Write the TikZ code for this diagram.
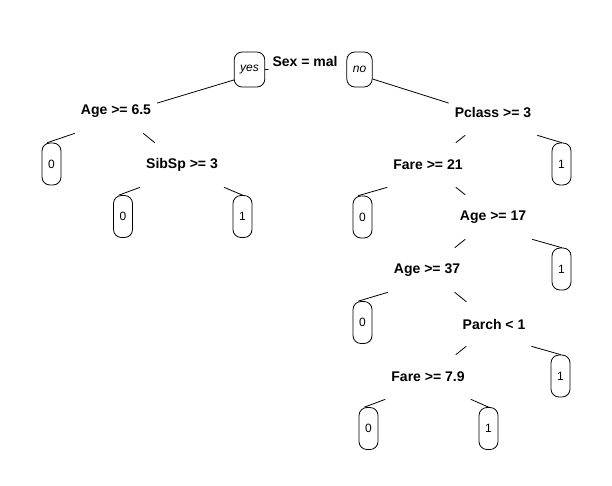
\documentclass[tikz,border=0pt]{standalone}
\usepackage{fontspec}
\setmainfont{Liberation Sans}
\begin{document}
\begin{tikzpicture}[x=1pt,y=-1pt,line width=0.8pt,line cap=round,
	split/.style={inner xsep=6pt,inner ysep=0pt,minimum height=44pt,font=\fontsize{14}{16}\selectfont\bfseries},
	leaf/.style={draw,rounded corners=8pt,minimum width=19pt,minimum height=42pt,inner sep=0pt,font=\fontsize{12}{14}\selectfont},
	tag/.style={draw,rounded corners=8pt,inner xsep=6pt,inner ysep=0pt,minimum height=35pt,font=\fontsize{12}{14}\selectfont\itshape}]
	\useasboundingbox (0,0) rectangle (612,485);
	%% Root
	\node[split] (sex) at (305,61) {Sex = mal};
	\node[tag] (yes) at (249.5,69.5) {yes};
	\node[tag] (no) at (359.5,69.5) {no};
	%% Splits
	\node[split] (age65) at (116,111) {Age >= 6.5};
	\node[split] (sibsp) at (182,165) {SibSp >= 3};
	\node[split] (pclass) at (493,113) {Pclass >= 3};
	\node[split] (fare21) at (428,165) {Fare >= 21};
	\node[split] (age17) at (493,217) {Age >= 17};
	\node[split] (age37) at (427,270) {Age >= 37};
	\node[split] (parch) at (494,324) {Parch < 1};
	\node[split] (fare79) at (428,377) {Fare >= 7.9};
	%% Leaves
	\node[leaf] (age65l) at (51.5,164) {0};
	\node[leaf] (sibspl) at (123,216.5) {0};
	\node[leaf] (sibspr) at (242.5,216.5) {1};
	\node[leaf] (pclassr) at (561.5,164) {1};
	\node[leaf] (fare21l) at (362.5,217) {0};
	\node[leaf] (age17r) at (561.5,269) {1};
	\node[leaf] (age37l) at (362.5,322.5) {0};
	\node[leaf] (parchr) at (560.5,376) {1};
	\node[leaf] (fare79l) at (368.5,428.5) {0};
	\node[leaf] (fare79r) at (488.5,428.5) {1};
	%% Branches
	\draw (yes.east) -- ++(3,0);
	\draw ([yshift=-10.5pt]yes.west) -- ([yshift=8pt]age65.east);
	\draw ([yshift=-9.5pt]no.east) -- ([yshift=10pt]pclass.west);
	\draw (age65.south west) -- ([xshift=-4pt]age65l.north);
	\draw (age65) -- (sibsp);
	\draw (sibsp.south west) -- ([xshift=-4pt]sibspl.north);
	\draw (sibsp.south east) -- (sibspr.north);
	\draw (pclass) -- (fare21);
	\draw (pclass.south east) -- (pclassr.north);
	\draw (fare21.south west) -- ([xshift=-4pt]fare21l.north);
	\draw (fare21) -- (age17);
	\draw (age17) -- (age37);
	\draw (age17.south east) -- (age17r.north);
	\draw (age37.south west) -- ([xshift=-4pt]age37l.north);
	\draw (age37) -- (parch);
	\draw (parch) -- (fare79);
	\draw (parch.south east) -- (parchr.north);
	\draw (fare79.south west) -- ([xshift=-4pt]fare79l.north);
	\draw (fare79.south east) -- (fare79r.north);
\end{tikzpicture}
\end{document}
